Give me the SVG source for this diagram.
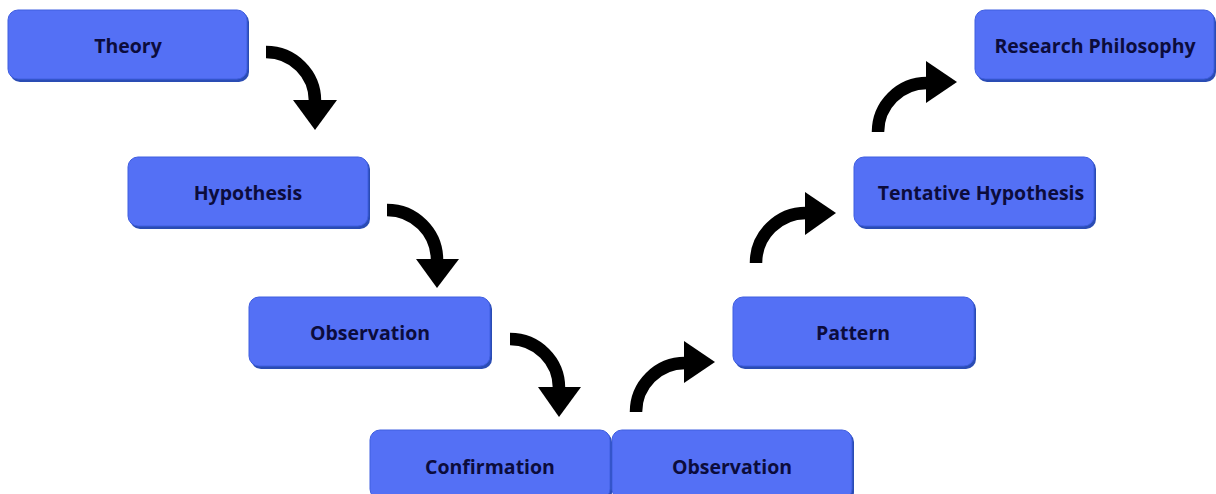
<svg xmlns="http://www.w3.org/2000/svg" width="1216" height="494" viewBox="0 0 1216 494">
  <defs>
    <style>
      .shadow { fill: #2a4cb4; }
      .box { fill: #5470f5; stroke: #3f5ee0; stroke-width: 1; }
      .label { font-family: "Open Sans", "Liberation Sans", sans-serif; font-weight: 700; font-size: 19.5px; fill: #0c0c3c; text-anchor: middle; dominant-baseline: central; }
      .arc { fill: none; stroke: #000; stroke-width: 12.5; }
      .head { fill: #000; }
    </style>
  </defs>
  <rect width="1216" height="494" fill="#ffffff"/>

  <g id="theory">
    <rect class="shadow" x="10" y="12" width="239" height="70" rx="10"/>
    <rect class="box" x="8" y="10" width="239" height="69" rx="10"/>
    <text class="label" x="128" y="45">Theory</text>
  </g>
  <g id="hypothesis">
    <rect class="shadow" x="130" y="159" width="240" height="70" rx="10"/>
    <rect class="box" x="128" y="157" width="240" height="69" rx="10"/>
    <text class="label" x="248" y="192">Hypothesis</text>
  </g>
  <g id="observation-1">
    <rect class="shadow" x="251" y="299" width="241" height="70" rx="10"/>
    <rect class="box" x="249" y="297" width="241" height="69" rx="10"/>
    <text class="label" x="370" y="332">Observation</text>
  </g>
  <g id="confirmation">
    <rect class="shadow" x="372" y="432" width="240" height="70" rx="10"/>
    <rect class="box" x="370" y="430" width="240" height="69" rx="10"/>
    <text class="label" x="490" y="466">Confirmation</text>
  </g>
  <g id="observation-2">
    <rect class="shadow" x="614" y="432" width="240" height="70" rx="10"/>
    <rect class="box" x="612" y="430" width="240" height="69" rx="10"/>
    <text class="label" x="732" y="466">Observation</text>
  </g>
  <g id="pattern">
    <rect class="shadow" x="735" y="299" width="241" height="70" rx="10"/>
    <rect class="box" x="733" y="297" width="241" height="69" rx="10"/>
    <text class="label" x="853" y="332">Pattern</text>
  </g>
  <g id="tentative-hypothesis">
    <rect class="shadow" x="856" y="159" width="240" height="70" rx="10"/>
    <rect class="box" x="854" y="157" width="240" height="69" rx="10"/>
    <text class="label" x="981" y="192">Tentative Hypothesis</text>
  </g>
  <g id="research-philosophy">
    <rect class="shadow" x="977" y="12" width="239" height="70" rx="10"/>
    <rect class="box" x="975" y="10" width="239" height="69" rx="10"/>
    <text class="label" x="1095" y="45">Research Philosophy</text>
  </g>

  <g id="connectors">
    <!-- descending branch: curve right then down -->
    <path class="arc" d="M266,52 A49,49 0 0 1 315,101"/>
    <polygon class="head" points="293,100 337,100 315,130"/>
    <path class="arc" d="M387,210 A50,50 0 0 1 437,260"/>
    <polygon class="head" points="416,259 459,259 437,288"/>
    <path class="arc" d="M510,339 A49,49 0 0 1 559,388"/>
    <polygon class="head" points="538,387 581,387 559,417"/>
    <!-- ascending branch: curve up then right -->
    <path class="arc" d="M636,412 A49,49 0 0 1 685,363"/>
    <polygon class="head" points="684,341 684,383 715,362"/>
    <path class="arc" d="M756,263 A50,50 0 0 1 806,213"/>
    <polygon class="head" points="805,192 805,235 836,213"/>
    <path class="arc" d="M878,132 A49,49 0 0 1 927,83"/>
    <polygon class="head" points="926,61 926,103 957,82"/>
  </g>
</svg>
